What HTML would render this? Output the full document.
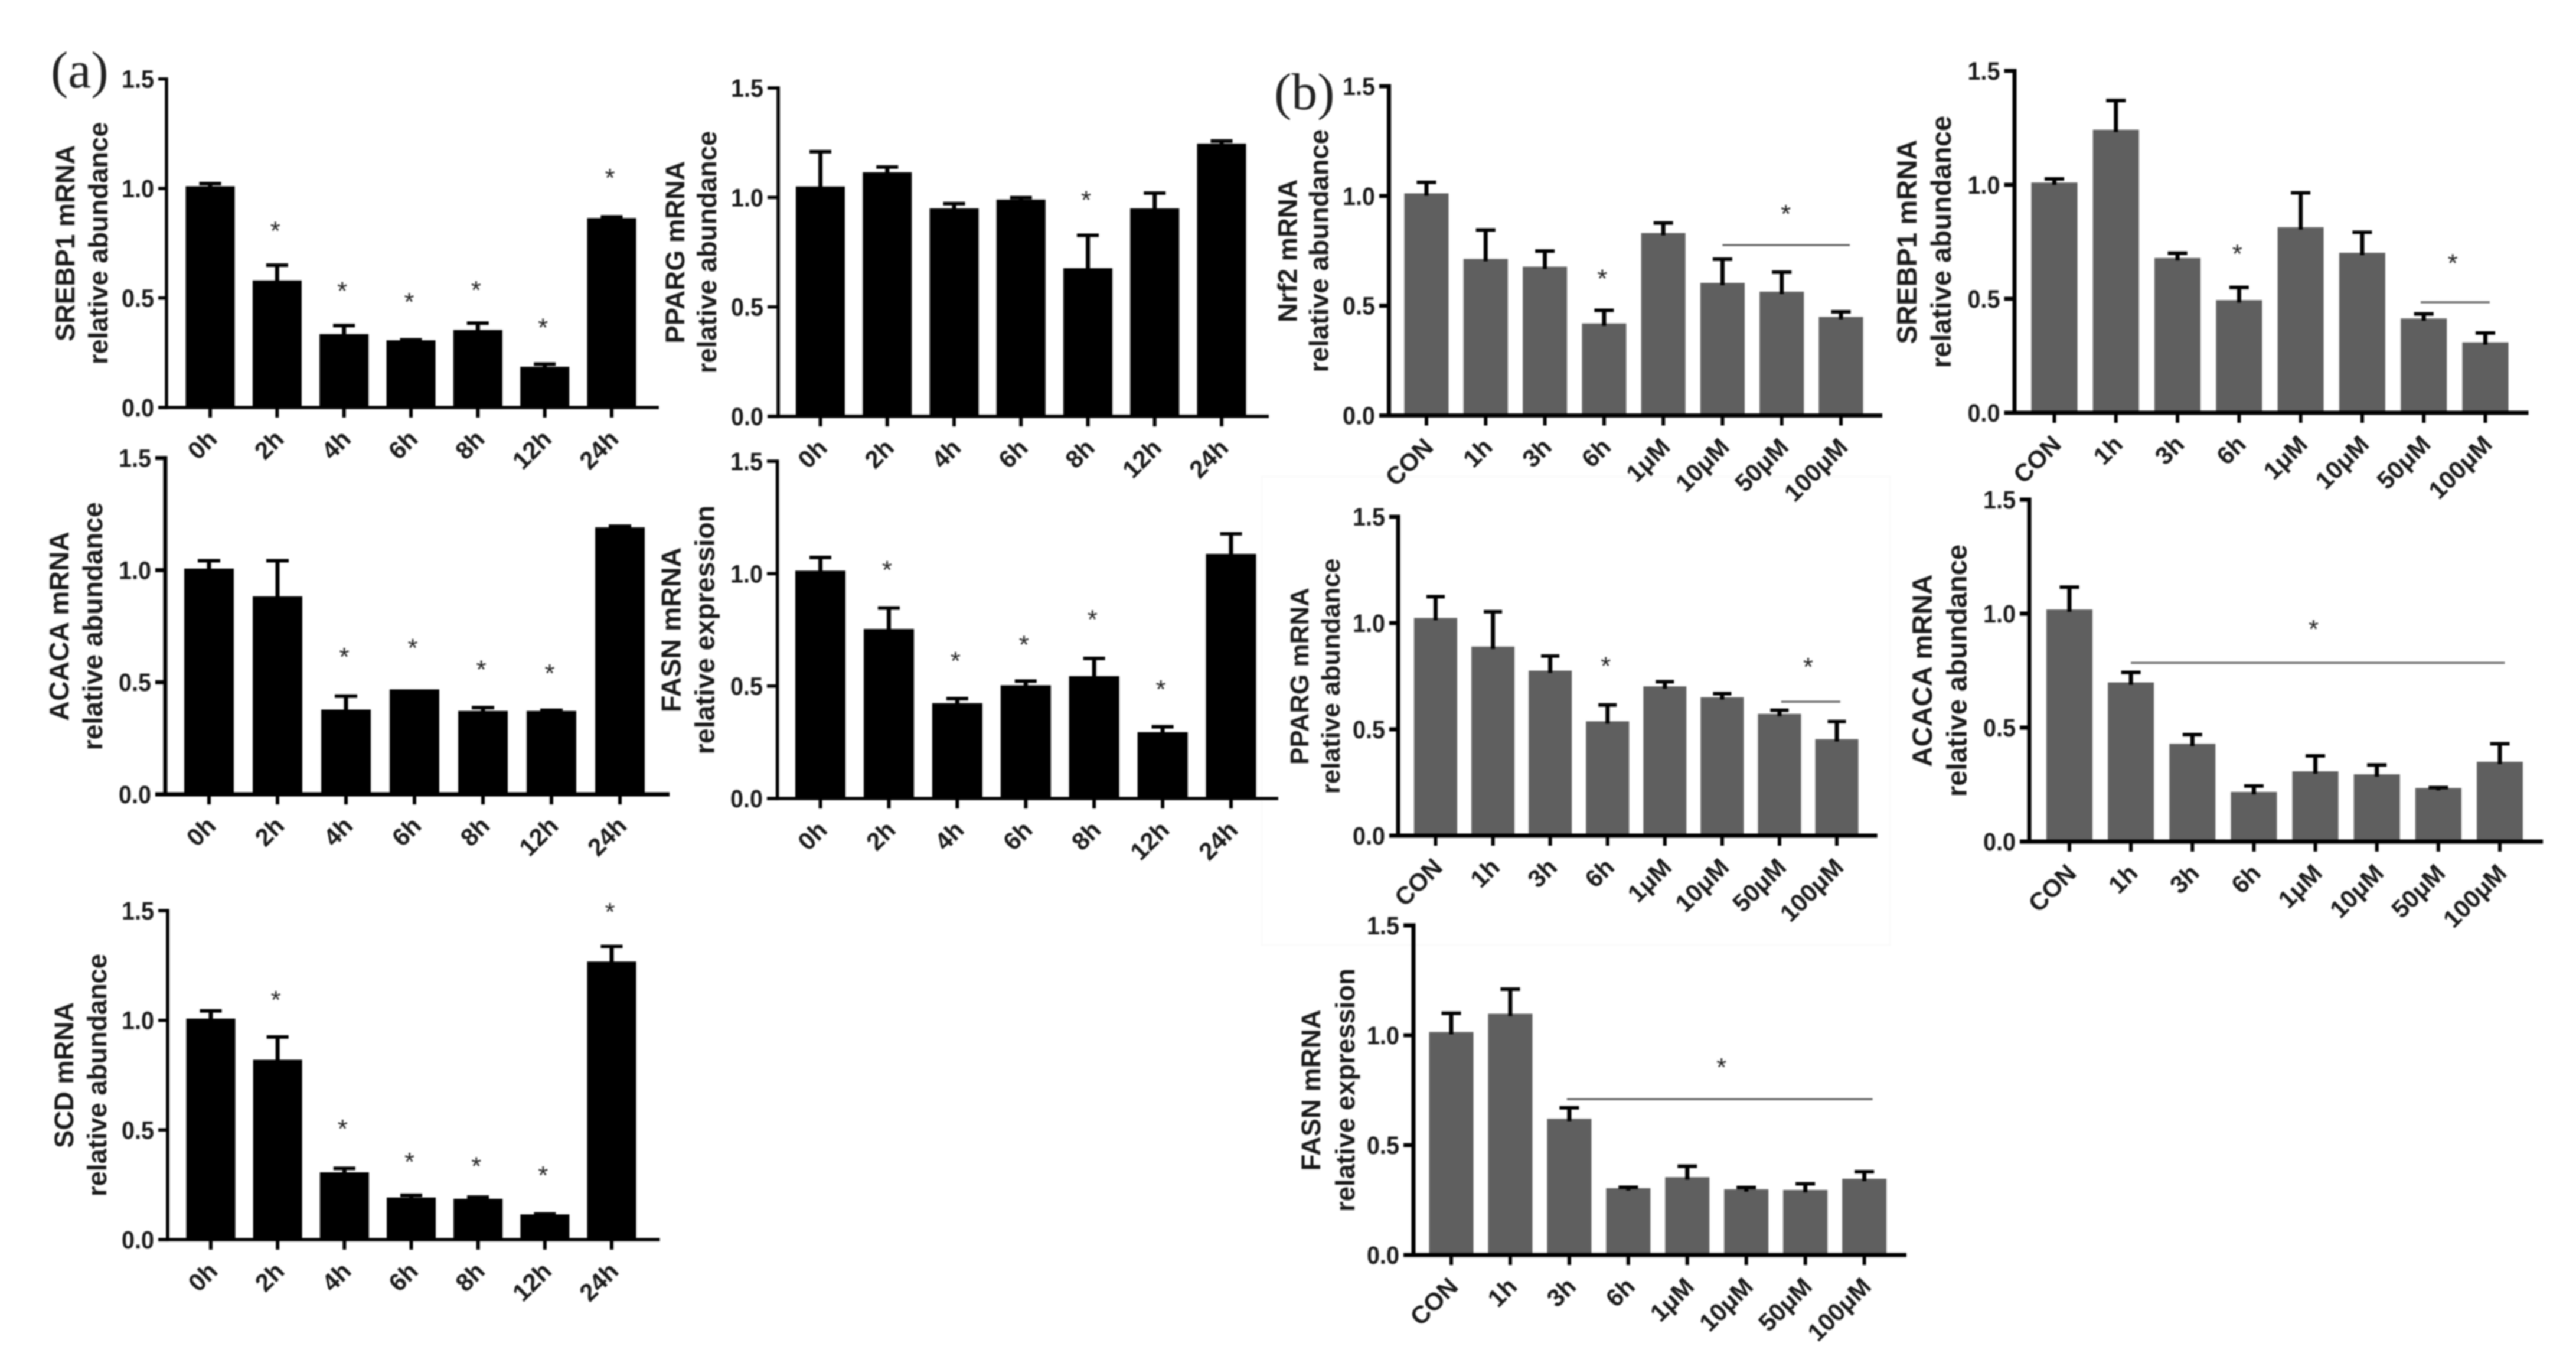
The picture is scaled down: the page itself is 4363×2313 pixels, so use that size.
<!DOCTYPE html>
<html lang="en">
<head>
<meta charset="utf-8">
<title>mRNA relative abundance panels</title>
<style>
html,body{margin:0;padding:0;background:#fff;width:4363px;height:2313px;overflow:hidden}
svg{display:block;filter:blur(1.3px)}
text{font-family:"Liberation Sans",sans-serif}
.panel-letter{font-family:"Liberation Serif",serif;font-size:88px;fill:#222}
</style>
</head>
<body>
<svg id="figure" xmlns="http://www.w3.org/2000/svg" width="4363" height="2313" viewBox="0 0 4363 2313">
  <rect x="0" y="0" width="4363" height="2313" fill="#fff"/>
  <rect x="2137" y="807" width="1064" height="793" fill="none" stroke="#fafafa" stroke-width="3"/>
  <text class="panel-letter" x="86" y="148">(a)</text>
  <text class="panel-letter" x="2158" y="185">(b)</text>
</svg>
<script>
const yTickValues = [0, 0.5, 1.0, 1.5];
const yTickLabels = ['0.0', '0.5', '1.0', '1.5'];
const timeLabels = ['0h', '2h', '4h', '6h', '8h', '12h', '24h'];
const doseLabels = ['CON', '1h', '3h', '6h', '1μM', '10μM', '50μM', '100μM'];

const aSrebp1Means = [1.01, 0.58, 0.335, 0.307, 0.354, 0.186, 0.865];
const aSrebp1Errors = [0.012, 0.07, 0.039, 0.002, 0.031, 0.012, 0.005];
const aSrebp1Stars = [null, 0.835, 0.56, 0.509, 0.563, 0.392, 1.076];

const aPpargMeans = [1.05, 1.115, 0.95, 0.99, 0.677, 0.95, 1.246];
const aPpargErrors = [0.159, 0.024, 0.022, 0.009, 0.15, 0.07, 0.012];
const aPpargStars = [null, null, null, null, 1.016, null, null];

const aAcacaMeans = [1.007, 0.883, 0.378, 0.468, 0.372, 0.372, 1.191];
const aAcacaErrors = [0.035, 0.159, 0.06, 0.0, 0.015, 0.003, 0.005];
const aAcacaStars = [null, null, 0.64, 0.68, 0.583, 0.566, null];

const aFasnMeans = [1.013, 0.754, 0.424, 0.503, 0.544, 0.295, 1.088];
const aFasnErrors = [0.059, 0.093, 0.02, 0.019, 0.079, 0.024, 0.089];
const aFasnStars = [null, 1.043, 0.639, 0.711, 0.823, 0.512, null];

const aScdMeans = [1.008, 0.82, 0.307, 0.192, 0.186, 0.115, 1.268];
const aScdErrors = [0.035, 0.104, 0.018, 0.01, 0.008, 0.002, 0.069];
const aScdStars = [null, 1.12, 0.533, 0.382, 0.362, 0.321, 1.521];

const bNrf2Means = [1.012, 0.713, 0.678, 0.419, 0.831, 0.604, 0.564, 0.449];
const bNrf2Errors = [0.05, 0.132, 0.071, 0.06, 0.046, 0.108, 0.089, 0.023];
const bNrf2Stars = [null, null, null, 0.651, null, null, null, null];
const bNrf2Bracket = [5, 7.15, 0.776];
const bNrf2GroupStar = [6.07, 0.946];

const bSrebp1Means = [1.01, 1.242, 0.679, 0.494, 0.814, 0.702, 0.414, 0.309];
const bSrebp1Errors = [0.016, 0.128, 0.021, 0.056, 0.151, 0.09, 0.02, 0.041];
const bSrebp1Stars = [null, null, null, 0.724, null, null, null, null];
const bSrebp1Bracket = [5.95, 7.07, 0.485];
const bSrebp1GroupStar = [6.47, 0.683];

const bPpargMeans = [1.024, 0.889, 0.776, 0.538, 0.702, 0.651, 0.573, 0.454];
const bPpargErrors = [0.1, 0.164, 0.069, 0.077, 0.022, 0.017, 0.017, 0.083];
const bPpargStars = [null, null, null, 0.826, null, null, null, null];
const bPpargBracket = [6.03, 7.06, 0.63];
const bPpargGroupStar = [6.5, 0.822];

const bAcacaMeans = [1.018, 0.698, 0.429, 0.218, 0.308, 0.295, 0.235, 0.35];
const bAcacaErrors = [0.098, 0.044, 0.04, 0.026, 0.068, 0.041, 0.002, 0.079];
const bAcacaStars = [null, null, null, null, null, null, null, null];
const bAcacaBracket = [1.0, 7.08, 0.784];
const bAcacaGroupStar = [3.97, 0.958];

const bFasnMeans = [1.015, 1.098, 0.62, 0.304, 0.354, 0.299, 0.296, 0.347];
const bFasnErrors = [0.085, 0.112, 0.05, 0.004, 0.05, 0.008, 0.028, 0.032];
const bFasnStars = [null, null, null, null, null, null, null, null];
const bFasnBracket = [1.96, 7.14, 0.709];
const bFasnGroupStar = [4.58, 0.882];

const NS = 'http://www.w3.org/2000/svg';
const root = document.getElementById('figure');

function mk(tag, parent, attrs, txt) {
  const el = document.createElementNS(NS, tag);
  for (const k in attrs) el.setAttribute(k, attrs[k]);
  if (txt !== undefined) el.textContent = txt;
  parent.appendChild(el);
  return el;
}

function drawPanel(id, g, labels, means, errors, stars, bracket, groupStar) {
  const n = labels.length;
  const yS = v => g.y0 - (v / 1.5) * (g.y0 - g.y15);
  const xS = i => g.x0 + i * (g.x1 - g.x0) / (n - 1);
  const sw = g.stroke;
  const group = mk('g', root, {});
  
  

  means.forEach((m, i) => {
    const bar = mk('rect', group, {x: xS(i) - g.barW / 2, y: yS(m), width: g.barW, height: g.y0 - yS(m), fill: g.color});
    
    
    const top = yS(m + errors[i]);
    if (errors[i] > 0.001) {
      const stem = mk('rect', group, {x: xS(i) - 3.5, y: top, width: 7, height: yS(m) - top + 4, fill: '#000'});
      
      
      const cap = mk('rect', group, {x: xS(i) - g.capW / 2, y: top - 3, width: g.capW, height: 6, fill: '#000'});
      
      
    }
  });

  const yAxis = mk('rect', group, {x: g.ax - sw / 2, y: g.y15 - sw / 2, width: sw, height: g.y0 - g.y15 + sw, fill: '#000'});
  
  
  const xAxis = mk('rect', group, {x: g.xs, y: g.y0 - sw / 2, width: g.xe - g.xs, height: sw, fill: '#000'});
  
  

  yTickValues.forEach((v, i) => {
    const t = mk('rect', group, {x: g.xs, y: yS(v) - sw / 2, width: g.ax - g.xs, height: sw, fill: '#000'});
    
    
    const lab = mk('text', group, {x: g.xs - 7, y: yS(v) + 15, 'text-anchor': 'end', 'font-size': 43, 'font-weight': 'bold', fill: '#1a1a1a', textLength: 55, lengthAdjust: 'spacingAndGlyphs'}, yTickLabels[i]);
    
    
  });

  labels.forEach((l, i) => {
    const t = mk('rect', group, {x: xS(i) - 3, y: g.y0, width: 6, height: 17, fill: '#000'});
    
    
    const X = xS(i) + 14, Y = g.y0 + 56;
    const lab = mk('text', group, {x: X, y: Y, 'text-anchor': 'end', 'font-size': 42, 'font-weight': 'bold', fill: '#1a1a1a', transform: 'rotate(-45 ' + X + ' ' + Y + ')'}, l);
    
    
  });

  const cy = (g.y0 + g.y15) / 2;
  const fs = (g.y0 - g.y15) * 0.0815;
  const X1 = g.ax - g.t1, X2 = g.ax - g.t2;
  const title1 = mk('text', group, {x: X1, y: cy, 'text-anchor': 'middle', 'font-size': fs, 'font-weight': 'bold', fill: '#1a1a1a', transform: 'rotate(-90 ' + X1 + ' ' + cy + ')'}, g.title1);
  
  
  const title2 = mk('text', group, {x: X2, y: cy, 'text-anchor': 'middle', 'font-size': fs, 'font-weight': 'bold', fill: '#1a1a1a', transform: 'rotate(-90 ' + X2 + ' ' + cy + ')'}, g.title2);
  
  

  stars.forEach((s, i) => {
    if (s === null) return;
    const st = mk('text', group, {x: xS(i) - 3, y: yS(s) + 25, 'text-anchor': 'middle', 'font-size': 44, fill: '#222'}, '*');
    
    
  });

  if (bracket) {
    const line = mk('rect', group, {x: xS(bracket[0]), y: yS(bracket[2]) - 1.5, width: xS(bracket[1]) - xS(bracket[0]), height: 3, fill: '#555'});
    
    
    const st = mk('text', group, {x: xS(groupStar[0]), y: yS(groupStar[1]) + 25, 'text-anchor': 'middle', 'font-size': 44, fill: '#222'}, '*');
    
    
  }
}

drawPanel('panel-a-srebp1', {x0:356, x1:1036, y0:690, y15:133.7, ax:282, xs:268, xe:1116, barW:83, capW:37, color:'#000', stroke:5.5, t1:156, t2:100, title1:'SREBP1 mRNA', title2:'relative abundance'}, timeLabels, aSrebp1Means, aSrebp1Errors, aSrebp1Stars);
drawPanel('panel-a-pparg', {x0:1389.5, x1:2069, y0:705, y15:149, ax:1318, xs:1300, xe:2149, barW:83, capW:37, color:'#000', stroke:5.5, t1:159, t2:105, title1:'PPARG mRNA', title2:'relative abundance'}, timeLabels, aPpargMeans, aPpargErrors, aPpargStars);
drawPanel('panel-a-acaca', {x0:354, x1:1050, y0:1345, y15:775.6, ax:280, xs:263, xe:1134, barW:84, capW:38, color:'#000', stroke:7, t1:164, t2:107, title1:'ACACA mRNA', title2:'relative abundance'}, timeLabels, aAcacaMeans, aAcacaErrors, aAcacaStars);
drawPanel('panel-a-fasn', {x0:1389.5, x1:2085, y0:1352, y15:781, ax:1316.6, xs:1299, xe:2165, barW:85, capW:37, color:'#000', stroke:5.5, t1:164, t2:107, title1:'FASN mRNA', title2:'relative expression'}, timeLabels, aFasnMeans, aFasnErrors, aFasnStars);
drawPanel('panel-a-scd', {x0:357, x1:1036, y0:2099, y15:1542, ax:284, xs:268, xe:1117.5, barW:83, capW:37, color:'#000', stroke:5.5, t1:160, t2:104, title1:'SCD mRNA', title2:'relative abundance'}, timeLabels, aScdMeans, aScdErrors, aScdStars);

drawPanel('panel-b-nrf2', {x0:2416, x1:3118, y0:703.5, y15:146, ax:2352.5, xs:2336, xe:3188, barW:75, capW:33, color:'#5f5f5f', stroke:7, t1:156, t2:103, title1:'Nrf2 mRNA', title2:'relative abundance'}, doseLabels, bNrf2Means, bNrf2Errors, bNrf2Stars, bNrf2Bracket, bNrf2GroupStar);
drawPanel('panel-b-srebp1', {x0:3479.5, x1:4209.5, y0:699, y15:120, ax:3412, xs:3394.5, xe:4282.5, barW:78, capW:33, color:'#5f5f5f', stroke:7, t1:166, t2:108, title1:'SREBP1 mRNA', title2:'relative abundance'}, doseLabels, bSrebp1Means, bSrebp1Errors, bSrebp1Stars, bSrebp1Bracket, bSrebp1GroupStar);
drawPanel('panel-b-pparg', {x0:2431.5, x1:3111, y0:1415, y15:875, ax:2368, xs:2353, xe:3179.6, barW:73, capW:31, color:'#5f5f5f', stroke:7, t1:152, t2:99, title1:'PPARG mRNA', title2:'relative abundance'}, doseLabels, bPpargMeans, bPpargErrors, bPpargStars, bPpargBracket, bPpargGroupStar);
drawPanel('panel-b-acaca', {x0:3505, x1:4234, y0:1425, y15:846, ax:3437, xs:3421, xe:4307, barW:78, capW:33, color:'#5f5f5f', stroke:7, t1:165, t2:106.5, title1:'ACACA mRNA', title2:'relative abundance'}, doseLabels, bAcacaMeans, bAcacaErrors, bAcacaStars, bAcacaBracket, bAcacaGroupStar);
drawPanel('panel-b-fasn', {x0:2458, x1:3157.6, y0:2125, y15:1567, ax:2394, xs:2377, xe:3229, barW:75, capW:33, color:'#5f5f5f', stroke:7, t1:158, t2:100, title1:'FASN mRNA', title2:'relative expression'}, doseLabels, bFasnMeans, bFasnErrors, bFasnStars, bFasnBracket, bFasnGroupStar);
</script>
</body>
</html>
